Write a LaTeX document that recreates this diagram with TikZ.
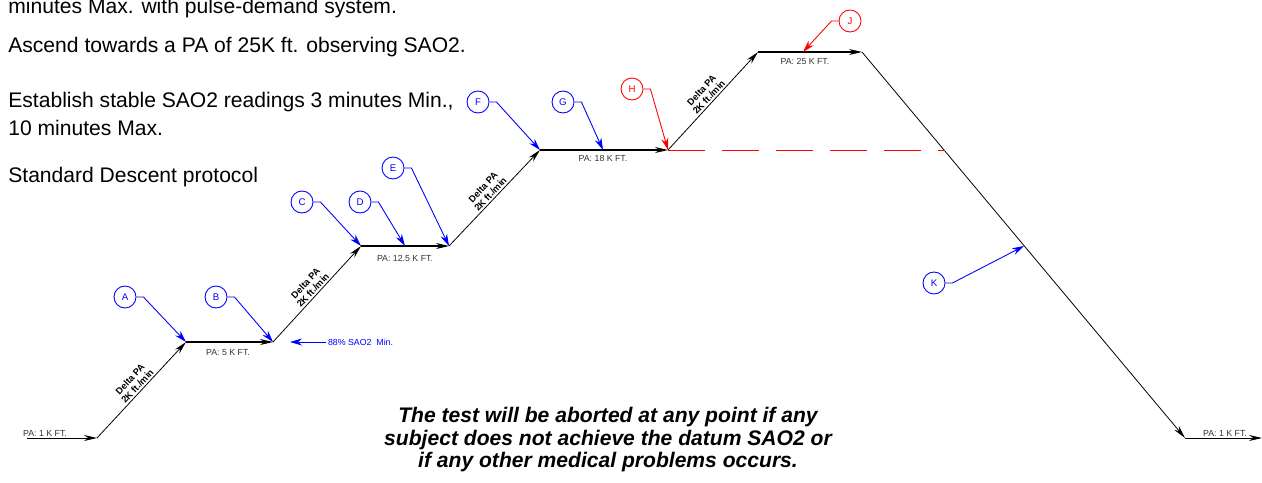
\documentclass[tikz,border=0pt]{standalone}
\usepackage{fontspec}
\setmainfont{Liberation Sans}
\usetikzlibrary{arrows.meta,positioning,calc}

\begin{document}
\begin{tikzpicture}[x=0.02cm,y=-0.02cm,seg/.style={-{Stealth[length=2.6mm,width=1.2mm]},draw=black,line width=.45pt},lbl/.style={font=\fontsize{5}{6}\selectfont,text=black!80,inner sep=1pt},slope/.style={font=\bfseries\fontsize{5.3}{5.7}\selectfont,align=center,inner sep=1pt,anchor=south},tag/.style={circle,draw,minimum size=.44cm,inner sep=0pt,font=\fontsize{5.5}{6}\selectfont,line width=.5pt},lead/.style={-{Stealth[length=2.4mm,width=1.4mm]},line width=.5pt},note/.style={font=\fontsize{12}{14}\selectfont,anchor=base west,inner sep=0pt}]
\useasboundingbox (0,0) rectangle (1262,483);
\clip (0,0) rectangle (1262,483);
% flight profile
\coordinate (p0) at (27,438); \coordinate (p1) at (97,438); \coordinate (p2) at (186,342); \coordinate (p3) at (273,342);
\coordinate (p4) at (361,246); \coordinate (p5) at (449,246); \coordinate (p6) at (540,150); \coordinate (p7) at (668,150);
\coordinate (p8) at (758,52); \coordinate (p9) at (862,52); \coordinate (p10) at (1185,438); \coordinate (p11) at (1262,438);
\draw[seg] (p0)--(p1); \draw[seg] (p1)--(p2); \draw[seg,line width=.6pt] (p2)--(p3); \draw[seg] (p3)--(p4);
\draw[seg,line width=.6pt] (p4)--(p5); \draw[seg] (p5)--(p6); \draw[seg,line width=.6pt] (p6)--(p7); \draw[seg] (p7)--(p8);
\draw[seg,line width=.6pt] (p8)--(p9); \draw[seg] (p9)--(p10); \draw[seg] (p10)--(p11);
\coordinate (hend) at (945,150);
\draw[red,line width=.5pt,dash pattern=on .74cm off .34cm] (p7)--(hend);
% altitude labels
\node[lbl] (l0) at (45,433) {PA: 1 K FT.};
\node[lbl] (l1) at (228,353) {PA: 5 K FT.};
\node[lbl] (l2) at (405,258) {PA: 12.5 K FT.};
\node[lbl] (l3) at (603,158) {PA: 18 K FT.};
\node[lbl] (l4) at (805,61) {PA: 25 K FT.};
\node[lbl] (l5) at (1225,433) {PA: 1 K FT.};
% climb rate
\node[slope,rotate=47] (s1) at ($(p1)!.5!(p2)$) {Delta PA\\2K ft./min};
\node[slope,rotate=47] (s2) at ($(p3)!.5!(p4)$) {Delta PA\\2K ft./min};
\node[slope,rotate=47] (s3) at ($(p5)!.5!(p6)$) {Delta PA\\2K ft./min};
\node[slope,rotate=47] (s4) at ($(p7)!.5!(p8)$) {Delta PA\\2K ft./min};
% callouts
\coordinate (dtip) at (405,246); \coordinate (gtip) at (603,150); \coordinate (jtip) at (803,52); \coordinate (ktip) at (1024,246);
\node[tag,blue] (tA) at (125,297) {A}; \draw[lead,blue] (tA.east)--++(7,0)--(p2);
\node[tag,blue] (tB) at (216,297) {B}; \draw[lead,blue] (tB.east)--++(7,0)--(p3);
\node[tag,blue] (tC) at (302,202) {C}; \draw[lead,blue] (tC.east)--++(7,0)--(p4);
\node[tag,blue] (tD) at (360,202) {D}; \draw[lead,blue] (tD.east)--++(7,0)--(dtip);
\node[tag,blue] (tE) at (393,168) {E}; \draw[lead,blue] (tE.east)--++(7,0)--(p5);
\node[tag,blue] (tF) at (478,102) {F}; \draw[lead,blue] (tF.east)--++(7,0)--(p6);
\node[tag,blue] (tG) at (563,102) {G}; \draw[lead,blue] (tG.east)--++(7,0)--(gtip);
\node[tag,red] (tH) at (632,89) {H}; \draw[lead,red] (tH.east)--++(7,0)--(p7);
\node[tag,red] (tJ) at (850,21) {J}; \draw[lead,red] (tJ.west)--++(-7,0)--(jtip);
\node[tag,blue] (tK) at (934,283) {K}; \draw[lead,blue] (tK.east)--++(7,0)--(ktip);
% saturation limit
\coordinate (satend) at (290,342);
\node[lbl,text=blue,anchor=west] (sat) at (326,342) {88\% SAO2\ \ Min.};
\draw[lead,blue] (sat.west)--(satend);
% notes
\node[note] (n0) at (8,14) {minutes Max. with pulse-demand system.};
\node[note] (n1) at (8,53) {Ascend towards a PA of 25K ft. observing SAO2.};
\node[note] (n2) at (8,108) {Establish stable SAO2 readings 3 minutes Min.,};
\node[note] (n3) at (8,135) {10 minutes Max.};
\node[note] (n4) at (8,183) {Standard Descent protocol};
\node[font=\bfseries\itshape\fontsize{12}{12.8}\selectfont,align=center] (abort) at (608,440) {The test will be aborted at any point if any\\subject does not achieve the datum SAO2 or\\if any other medical problems occurs.};
\end{tikzpicture}
\end{document}
